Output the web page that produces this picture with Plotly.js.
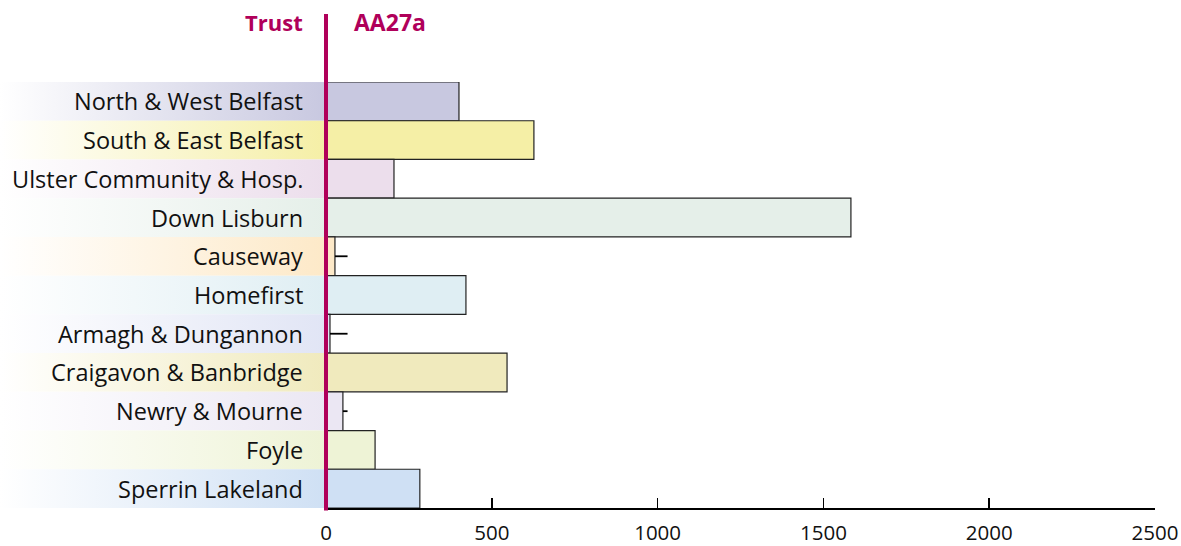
<!DOCTYPE html>
<html>
<head>
<meta charset="utf-8">
<script src="https://cdn.plot.ly/plotly-3.0.1.min.js"></script>
<style>html,body{margin:0;padding:0;background:#fff;}#chart{width:1181px;height:546px;}</style>
</head>
<body>
<div id="chart"></div>
<script>
const trusts = ["North & West Belfast","South & East Belfast","Ulster Community & Hosp.","Down Lisburn","Causeway","Homefirst","Armagh & Dungannon","Craigavon & Banbridge","Newry & Mourne","Foyle","Sperrin Lakeland"];
const values = [401, 627, 205, 1583, 27, 422, 12, 546, 51, 148, 283];
const errorPlus = [0, 0, 0, 0, 38, 0, 53, 0, 14, 0, 0];
const colors = ["#c8c8e0","#f5efa6","#ecdeec","#e5efe9","#fde9c8","#dfeef3","#e1e5f5","#f0eabd","#ebe7f3","#eef3d6","#cfe0f4"];
const xTicks = [0, 500, 1000, 1500, 2000, 2500];
const titleLeft = "Trust";
const titleRight = "AA27a";

const FONT = "Open Sans, Noto Sans, sans-serif";
const MAGENTA = "#b0005a";
const idx = trusts.map((_, i) => i);

const traces = [];
// gradient bands behind the labels
idx.forEach(i => {
  traces.push({
    type: "scatter", xaxis: "x2", yaxis: "y",
    x: [0, 1, 1, 0, 0],
    y: [i - 0.5, i - 0.5, i + 0.5, i + 0.5, i - 0.5],
    mode: "lines", line: {width: 0}, fill: "toself",
    fillgradient: {type: "horizontal", colorscale: [[0, "rgba(255,255,255,1)"], [1, colors[i]]]},
    hoverinfo: "skip", showlegend: false
  });
});
traces.push({
  type: "bar", orientation: "h", xaxis: "x", yaxis: "y",
  x: values, y: idx,
  marker: {color: colors, line: {color: "#222", width: 1.2}},
  error_x: {type: "data", symmetric: false, array: errorPlus, arrayminus: idx.map(() => 0), width: 0, thickness: 1.8, color: "#000"},
  showlegend: false
});

const L = 326 / 1181, R = 1155 / 1181;
const labelAnnotations = trusts.map((t, i) => ({
  text: t, xref: "paper", yref: "y", x: 305 / 1181, y: i,
  xanchor: "right", yanchor: "middle", showarrow: false,
  font: {family: FONT, size: 23.5, color: "#111"}
}));
const layout = {
  width: 1181, height: 546,
  margin: {l: 0, r: 0, t: 82, b: 38},
  paper_bgcolor: "#fff", plot_bgcolor: "rgba(0,0,0,0)",
  font: {family: FONT, size: 20, color: "#111"},
  bargap: 0,
  xaxis: {
    domain: [L, R], range: [0, 2500], tickvals: xTicks, ticktext: xTicks.map(String),
    showgrid: false, zeroline: false, showline: true, linecolor: "#000", linewidth: 2,
    ticks: "inside", ticklen: 10, tickwidth: 1.5, tickcolor: "#000", ticklabelstandoff: 5,
    tickfont: {family: FONT, size: 20.5, color: "#111"}, anchor: "y", fixedrange: true
  },
  xaxis2: {domain: [0, L], range: [0, 1], visible: false, showgrid: false, zeroline: false, anchor: "y"},
  yaxis: {
    range: [10.5, -0.5], showgrid: false, zeroline: false,
    showline: false, ticks: "", showticklabels: false, anchor: "x"
  },
  shapes: [{
    type: "line", xref: "paper", yref: "paper", x0: L, x1: L, y0: -0.006, y1: (508 - 14) / 426,
    line: {color: MAGENTA, width: 4}, layer: "above"
  }],
  annotations: [
    {text: "<b>" + titleLeft + "</b>", xref: "paper", yref: "paper", x: 305 / 1181, y: (508 - 22) / 426,
     xanchor: "right", yanchor: "middle", showarrow: false, font: {family: FONT, size: 22, color: MAGENTA}},
    {text: "<b>" + titleRight + "</b>", xref: "paper", yref: "paper", x: 352 / 1181, y: (508 - 22) / 426,
     xanchor: "left", yanchor: "middle", showarrow: false, font: {family: FONT, size: 23, color: MAGENTA}}
  ].concat(labelAnnotations)
};
Plotly.newPlot("chart", traces, layout, {displayModeBar: false, staticPlot: true});
</script>
</body>
</html>
